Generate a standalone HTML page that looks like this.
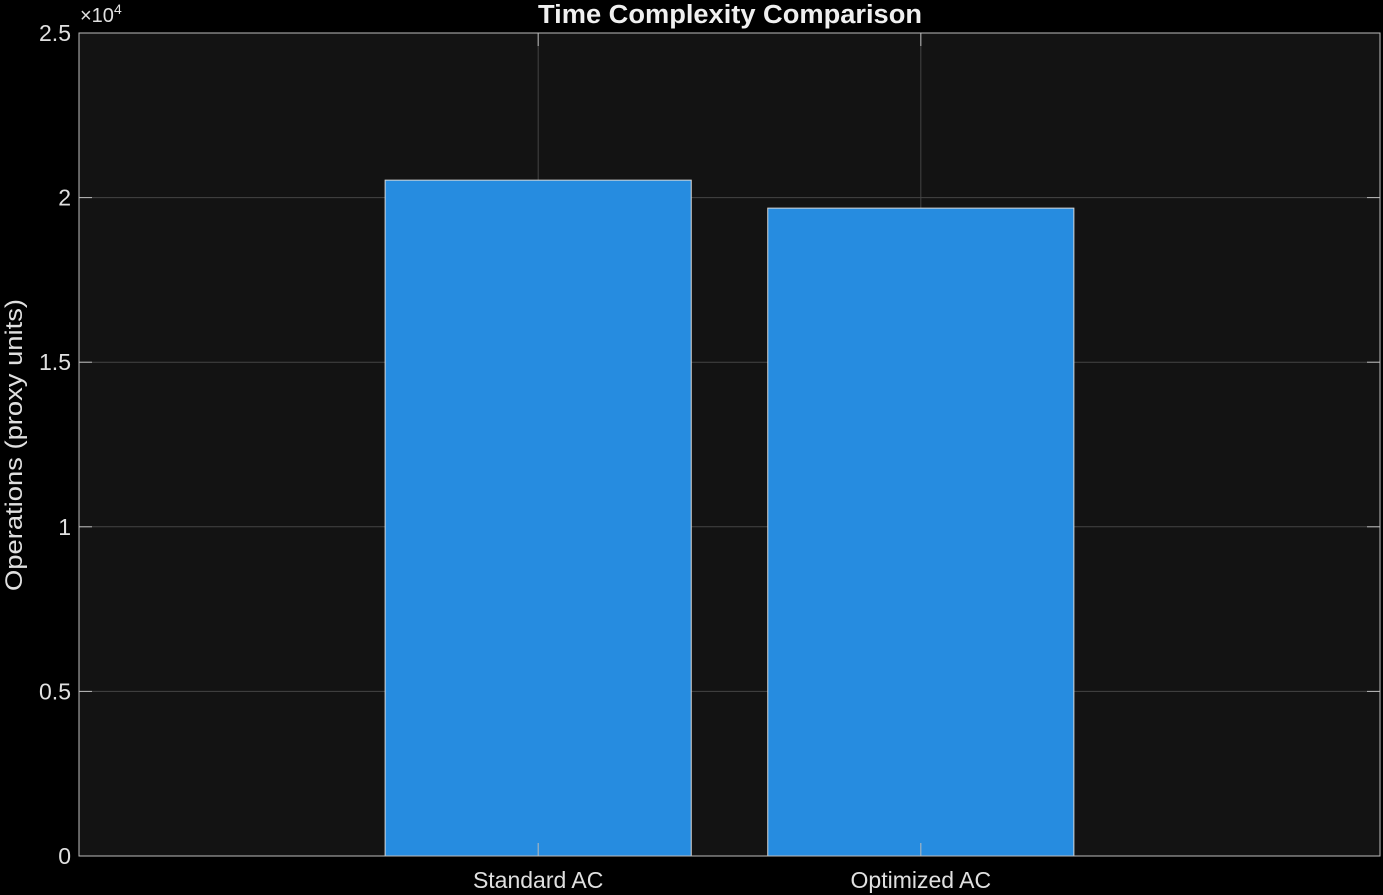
<!DOCTYPE html>
<html><head><meta charset="utf-8"><style>
html,body{margin:0;padding:0;background:#000;}
svg{display:block;font-family:"Liberation Sans",Arial,sans-serif;}
</style></head><body>
<svg id="chart" width="1383" height="895" xmlns="http://www.w3.org/2000/svg">
<rect width="1383" height="895" fill="#000"/>
<rect x="79" y="33" width="1301" height="823" fill="#131313"/>
<g id="grid"></g>
<g id="bars"></g>
<g id="axes"></g>
<text x="730" y="23" text-anchor="middle" fill="#f0f0f0" font-size="25.5" font-weight="bold" textLength="384" lengthAdjust="spacingAndGlyphs">Time Complexity Comparison</text>
<text transform="translate(22,445) rotate(-90)" text-anchor="middle" fill="#e0e0e0" font-size="24" textLength="292" lengthAdjust="spacingAndGlyphs">Operations (proxy units)</text>
<text x="80" y="22" fill="#e0e0e0" font-size="20">×10<tspan dy="-8" font-size="14">4</tspan></text>
</svg>
<script>
const categories = ["Standard AC", "Optimized AC"];
const values = [20530, 19680];
const yTicks = [0, 5000, 10000, 15000, 20000, 25000];
const yTickLabels = ["0", "0.5", "1", "1.5", "2", "2.5"];

const L=79,R=1380,T=33,B=856, yMax=25000, xMin=-0.2, xMax=3.2, barW=0.8;
const ns="http://www.w3.org/2000/svg";
function y(v){return B-(v/yMax)*(B-T);}
function x(i){return L+((i+1)-xMin)/(xMax-xMin)*(R-L);}
function mk(tag,attrs,parent){const e=document.createElementNS(ns,tag);for(const k in attrs)e.setAttribute(k,attrs[k]);parent.appendChild(e);return e;}
const grid=document.getElementById('grid'),bars=document.getElementById('bars'),axes=document.getElementById('axes');
yTicks.forEach((t,i)=>{
  const l=mk('line',{x1:L,x2:R,y1:y(t),y2:y(t),stroke:'#454545','stroke-width':1},grid);
  
  
  const tk=mk('line',{x1:L,x2:L+13,y1:y(t),y2:y(t),stroke:'#bbb','stroke-width':1},axes);
  
  
  const tk2=mk('line',{x1:R-13,x2:R,y1:y(t),y2:y(t),stroke:'#bbb','stroke-width':1},axes);
  
  
  const tx=mk('text',{x:L-8,y:y(t)+8,'text-anchor':'end',fill:'#e0e0e0','font-size':23},axes);
  tx.textContent=yTickLabels[i];
  
  
});
categories.forEach((c,i)=>{
  const cx=x(i);
  const g=mk('line',{x1:cx,x2:cx,y1:T,y2:B,stroke:'#454545','stroke-width':1},grid);
  
  
  const pw=barW/(xMax-xMin)*(R-L);
  const b=mk('rect',{x:cx-pw/2,y:y(values[i]),width:pw,height:B-y(values[i]),fill:'#268ce0',stroke:'#d8d8d8','stroke-width':1},bars);
  
  
  const t1=mk('line',{x1:cx,x2:cx,y1:B-13,y2:B,stroke:'#bbb'},axes);
  
  
  const t2=mk('line',{x1:cx,x2:cx,y1:T,y2:T+13,stroke:'#bbb'},axes);
  
  
  const tx=mk('text',{x:cx,y:B+32,'text-anchor':'middle',fill:'#e0e0e0','font-size':23},axes);
  tx.textContent=c;
  
  
});
const box=mk('rect',{x:L,y:T,width:R-L,height:B-T,fill:'none',stroke:'#bdbdbd','stroke-width':1},axes);


</script>
</body></html>
